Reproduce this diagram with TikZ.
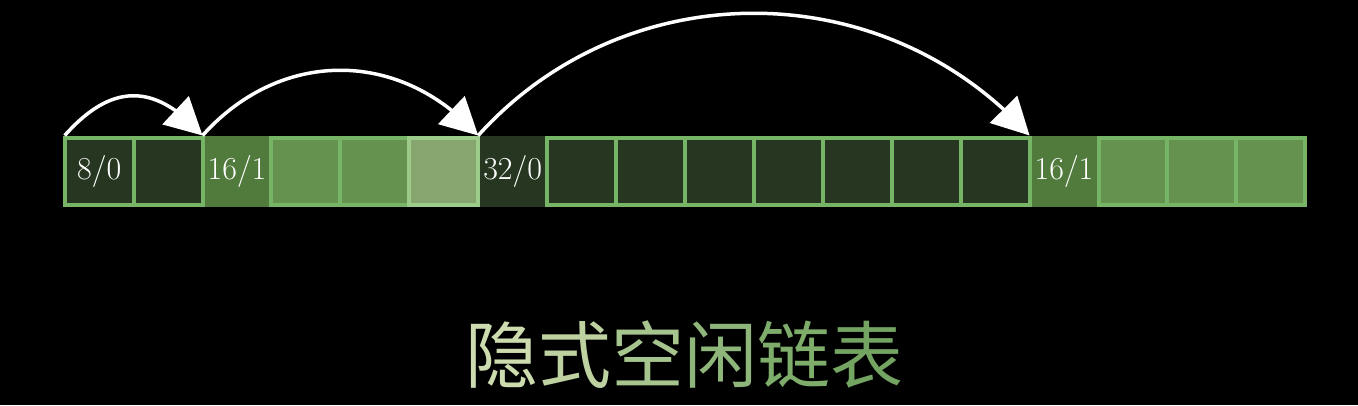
\documentclass[tikz,border=0pt]{standalone}
\usepackage{fontspec}
\newfontfamily\cjk{Noto Sans CJK SC}
\usetikzlibrary{arrows.meta,bending}
\definecolor{dk}{HTML}{263620}
\definecolor{md}{HTML}{517A3D}
\definecolor{lt}{HTML}{65934F}
\definecolor{lx}{HTML}{87A56F}
\definecolor{bd}{HTML}{76B565}
\definecolor{bx}{HTML}{9CCB8A}
\definecolor{ta}{HTML}{CDDCAF}
\definecolor{tb}{HTML}{BDD2A0}
\definecolor{tc}{HTML}{A6C48E}
\definecolor{td}{HTML}{8FB67A}
\definecolor{te}{HTML}{7EAC6A}
\definecolor{tf}{HTML}{74A462}
\begin{document}
\begin{tikzpicture}[x=1pt,y=-1pt,
  cell/.style={draw=bd, line width=4pt, minimum width=68.92pt, minimum height=67.5pt,
    inner sep=0pt, outer sep=0pt, text=white, font=\fontsize{32}{32}\selectfont},
  hdr/.style={draw=none, minimum width=64.92pt, minimum height=71.5pt,
    inner sep=0pt, outer sep=0pt, text=white, font=\fontsize{32}{32}\selectfont},
  arr/.style={draw=white, line width=3.5pt, -{Triangle[length=37pt,width=38pt,flex]}}]
\fill[black] (0,0) rectangle (1358,405);
\useasboundingbox (0,0) rectangle (1358,405);
\node[cell, fill=dk] (c1) at (99.16,171.25) {8/0};
\node[cell, fill=dk] (c2) at (168.08,171.25) {};
\node[hdr, fill=md] (c3) at (237.00,171.25) {16/1};
\node[cell, fill=lt] (c4) at (305.92,171.25) {};
\node[cell, fill=lt] (c5) at (374.84,171.25) {};
\node[cell, fill=lx, draw=bx] (c6) at (443.76,171.25) {};
\node[hdr, fill=dk] (c7) at (512.68,171.25) {32/0};
\node[cell, fill=dk] (c8) at (581.60,171.25) {};
\node[cell, fill=dk] (c9) at (650.52,171.25) {};
\node[cell, fill=dk] (c10) at (719.44,171.25) {};
\node[cell, fill=dk] (c11) at (788.36,171.25) {};
\node[cell, fill=dk] (c12) at (857.28,171.25) {};
\node[cell, fill=dk] (c13) at (926.20,171.25) {};
\node[cell, fill=dk] (c14) at (995.12,171.25) {};
\node[hdr, fill=md] (c15) at (1064.04,171.25) {16/1};
\node[cell, fill=lt] (c16) at (1132.96,171.25) {};
\node[cell, fill=lt] (c17) at (1201.88,171.25) {};
\node[cell, fill=lt] (c18) at (1270.80,171.25) {};
\draw[arr] ([yshift=2pt]c1.north west) .. controls +(47,-53) and +(-47,-53) .. ([xshift=-2pt]c3.north west);
\draw[arr] ([xshift=-2pt]c3.north west) .. controls +(78,-87) and +(-78,-87) .. ([xshift=-2pt]c7.north west);
\draw[arr] ([xshift=-2pt]c7.north west) .. controls +(147,-163) and +(-147,-163) .. ([xshift=-2pt]c15.north west);
\node[inner sep=0pt, font=\cjk\fontsize{73}{73}\selectfont] (title) at (684,355)
  {{\color{ta}隐}{\color{tb}式}{\color{tc}空}{\color{td}闲}{\color{te}链}{\color{tf}表}};
\end{tikzpicture}
\end{document}
